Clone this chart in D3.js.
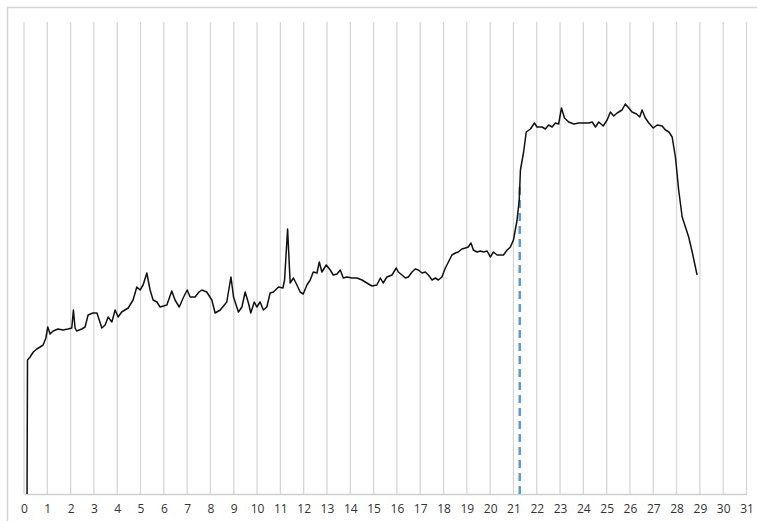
<!DOCTYPE html>
<html>
<head>
<meta charset="utf-8">
<script src="https://cdn.jsdelivr.net/npm/d3@7"></script>
<style>
  body { margin: 0; background: #fff; }
  svg { display: block; }
</style>
</head>
<body>
<div id="chart"></div>
<script>
// Series (x in axis units, y in arbitrary height units)
var xValues = [0.13, 0.15, 0.26, 0.40, 0.55, 0.69, 0.82, 0.94, 1.02, 1.12, 1.25, 1.46, 1.67, 1.89, 2.05, 2.12, 2.19, 2.26, 2.48, 2.62,
  2.75, 2.96, 3.13, 3.34, 3.48, 3.61, 3.77, 3.91, 4.04, 4.19, 4.47, 4.68, 4.84, 4.98, 5.11, 5.27, 5.41, 5.54, 5.70, 5.84,
  6.13, 6.34, 6.48, 6.66, 6.83, 7.00, 7.13, 7.34, 7.51, 7.63, 7.84, 8.06, 8.20, 8.42, 8.70, 8.88, 8.99, 9.20, 9.35, 9.49,
  9.63, 9.73, 9.88, 9.99, 10.13, 10.27, 10.42, 10.56, 10.70, 10.92, 11.11, 11.18, 11.31, 11.42, 11.56, 11.71, 11.85, 11.98, 12.14, 12.28,
  12.41, 12.57, 12.67, 12.78, 12.97, 13.14, 13.27, 13.43, 13.57, 13.70, 13.86, 14.07, 14.29, 14.50, 14.71, 14.93, 15.14, 15.29, 15.41, 15.57,
  15.79, 15.97, 16.06, 16.22, 16.36, 16.49, 16.65, 16.79, 16.92, 17.08, 17.22, 17.35, 17.51, 17.65, 17.78, 17.93, 18.08, 18.21, 18.36, 18.51,
  18.63, 18.79, 18.94, 19.06, 19.18, 19.28, 19.44, 19.58, 19.71, 19.87, 20.01, 20.14, 20.30, 20.44, 20.57, 20.73, 20.87, 21.00, 21.15, 21.25,
  21.30, 21.43, 21.55, 21.73, 21.90, 22.01, 22.23, 22.37, 22.51, 22.66, 22.80, 22.94, 23.06, 23.19, 23.37, 23.59, 23.80, 24.01, 24.23, 24.38,
  24.52, 24.66, 24.85, 25.02, 25.16, 25.30, 25.45, 25.66, 25.80, 25.95, 26.09, 26.28, 26.42, 26.52, 26.66, 26.81, 27.00, 27.17, 27.38, 27.52,
  27.67, 27.81, 27.95, 28.09, 28.24, 28.38, 28.52, 28.67, 28.88];
var yValues = [0, 134, 137, 142, 145, 147, 149, 156, 167, 160, 163, 165, 164, 165, 166, 184, 166, 163, 165, 167,
  179, 181, 181, 166, 169, 177, 172, 184, 177, 182, 186, 194, 207, 204, 209, 221, 204, 194, 192, 187,
  189, 203, 194, 187, 196, 204, 197, 197, 202, 204, 202, 194, 181, 184, 192, 217, 197, 182, 187, 202,
  191, 181, 192, 187, 192, 184, 187, 201, 202, 207, 206, 214, 265, 211, 216, 209, 202, 200, 209, 214,
  222, 221, 232, 222, 229, 224, 219, 220, 224, 216, 217, 216, 216, 214, 211, 208, 209, 216, 211, 217,
  219, 226, 222, 219, 216, 217, 222, 225, 224, 221, 222, 219, 214, 216, 214, 217, 226, 232, 239, 241,
  242, 245, 246, 247, 251, 244, 242, 243, 242, 243, 237, 242, 239, 239, 239, 244, 247, 254, 273, 294,
  324, 341, 362, 365, 371, 367, 367, 365, 369, 367, 371, 370, 386, 376, 372, 370, 371, 371, 371, 372,
  367, 372, 368, 374, 382, 378, 381, 384, 390, 386, 382, 380, 377, 384, 376, 371, 366, 369, 368, 364,
  362, 357, 337, 304, 277, 267, 257, 242, 219];
var xTicks = d3.range(0, 32);
var markerX = 21.27;
var markerTop = 307;

var width = 757, height = 521;

var svg = d3.select('#chart').append('svg')
  .attr('width', width)
  .attr('height', height);

// outer frame
svg.append('rect')
  .attr('x', 7.5).attr('y', 7.5)
  .attr('width', 800).attr('height', 600)
  .attr('fill', 'none')
  .attr('stroke', '#d4d4d4')
  .attr('stroke-width', 1.5);

var xscale = d3.scaleLinear().domain([0, 31]).range([24, 746.5]);
var yscale = d3.scaleLinear().domain([0, 472]).range([494, 22]);

// vertical gridlines
svg.append('g')
  .selectAll('line')
  .data(xTicks)
  .join('line')
  .attr('x1', d => xscale(d)).attr('x2', d => xscale(d))
  .attr('y1', yscale(472)).attr('y2', yscale(0))
  .attr('stroke', '#d6d6d6')
  .attr('stroke-width', 1.3);

// x axis
var xaxis = d3.axisBottom(xscale).tickValues(xTicks).tickSize(0).tickPadding(10);
var gx = svg.append('g')
  .attr('transform', 'translate(0,' + yscale(0) + ')')
  .call(xaxis);
gx.select('.domain').attr('stroke', '#d0d0d0').attr('stroke-width', 1.3);
gx.selectAll('text')
  .attr('fill', '#333')
  .style('font-family', '"Open Sans", sans-serif')
  .style('font-size', '12px');

// blue dashed marker
svg.append('line')
  .attr('x1', xscale(markerX)).attr('x2', xscale(markerX))
  .attr('y1', yscale(markerTop)).attr('y2', yscale(0))
  .attr('stroke', '#5b9bd5')
  .attr('stroke-width', 2.5)
  .attr('stroke-dasharray', '8,5');

// main line
var pts = xValues.map((x, i) => [x, yValues[i]]);
var line = d3.line()
  .x(d => xscale(d[0]))
  .y(d => yscale(d[1]))
  .curve(d3.curveLinear);

svg.append('path')
  .datum(pts)
  .attr('d', line)
  .attr('fill', 'none')
  .attr('stroke', '#111')
  .attr('stroke-width', 1.5)
  .attr('stroke-linejoin', 'round');
</script>
</body>
</html>
